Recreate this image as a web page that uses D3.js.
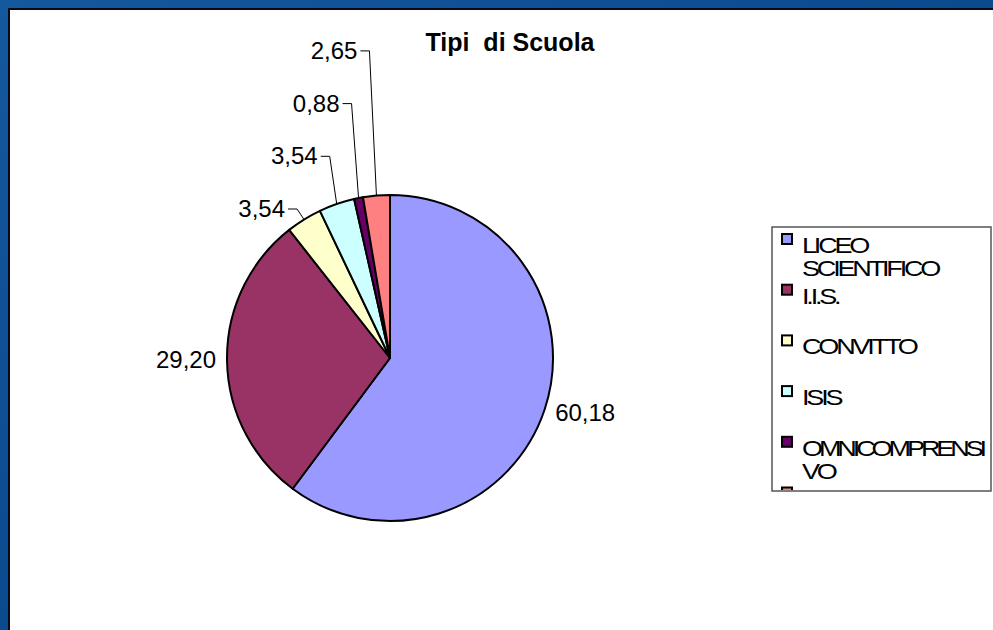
<!DOCTYPE html>
<html>
<head>
<meta charset="utf-8">
<script src="https://cdn.jsdelivr.net/npm/d3@7"></script>
<style>
  body { margin: 0; padding: 0; overflow: hidden; }
  svg { display: block; }
</style>
</head>
<body>
<script>
// data
const categories = ["LICEO SCIENTIFICO", "I.I.S.", "CONVITTO", "ISIS", "OMNICOMPRENSIVO", "ALTRO"];
const values = [60.18, 29.20, 3.54, 3.54, 0.88, 2.65];
const labels = ["60,18", "29,20", "3,54", "3,54", "0,88", "2,65"];
const legendLines = [["LICEO", "SCIENTIFICO"], ["I.I.S."], ["CONVITTO"], ["ISIS"], ["OMNICOMPRENSI", "VO"], ["ALTRO"]];
const colors = ["#9999ff", "#993366", "#ffffcc", "#ccffff", "#660066", "#ff8080"];

const width = 993, height = 630;
const cx = 390, cy = 358, radius = 163;

const svg = d3.select("body").append("svg")
    .attr("width", width)
    .attr("height", height);

const defs = svg.append("defs");
const grad = defs.append("linearGradient")
    .attr("id", "bg")
    .attr("x1", "0").attr("y1", "0").attr("x2", "1").attr("y2", "1");
grad.append("stop").attr("offset", "0%").attr("stop-color", "#14589e");
grad.append("stop").attr("offset", "50%").attr("stop-color", "#0c4a8e");
grad.append("stop").attr("offset", "100%").attr("stop-color", "#0a4283");

// blue frame + white panel
svg.append("rect")
    .attr("width", width).attr("height", height)
    .attr("fill", "url(#bg)");

svg.append("rect")
    .attr("x", 9).attr("y", 9)
    .attr("width", width).attr("height", height)
    .attr("fill", "#ffffff")
    .attr("stroke", "#0a0a14")
    .attr("stroke-width", 2);

// title
svg.append("text")
    .attr("x", 510)
    .attr("y", 51)
    .attr("text-anchor", "middle")
    .style("font-family", "Liberation Sans, Arial, sans-serif")
    .style("font-weight", "bold")
    .style("font-size", "25px")
    .style("white-space", "pre")
    .text("Tipi  di Scuola");

// pie
const pie = d3.pie().sort(null).value(function(d){ return d; });
const arcs = pie(values);
const arc = d3.arc().innerRadius(0).outerRadius(radius);

const g = svg.append("g").attr("transform", "translate(" + cx + "," + cy + ")");

g.selectAll("path")
    .data(arcs)
    .enter()
    .append("path")
    .attr("d", arc)
    .attr("fill", function(d, i){ return colors[i]; })
    .attr("stroke", "#000")
    .attr("stroke-width", 2)
    .attr("stroke-linejoin", "round");

// labels: big slices next to the arc, small ones stacked up with leader lines
let smallIndex = 0;
arcs.forEach(function(d, i){
  const mid = (d.startAngle + d.endAngle) / 2;
  const sx = Math.sin(mid), sy = -Math.cos(mid);
  if (d.value >= 5) {
    const px = (radius + 11) * sx, py = (radius + 11) * sy;
    g.append("text")
        .attr("x", px)
        .attr("y", py + 8)
        .attr("text-anchor", sx >= 0 ? "start" : "end")
        .style("font-family", "Liberation Sans, Arial, sans-serif")
        .style("font-size", "24px")
        .text(labels[i]);
  } else {
    const ax = radius * sx, ay = radius * sy;
    const rowY = -149 - 52.7 * smallIndex;
    const ex = ax - 7;
    g.append("polyline")
        .attr("points", [[ex - 9, rowY], [ex, rowY], [ax, ay]].map(function(p){ return p.join(","); }).join(" "))
        .attr("fill", "none")
        .attr("stroke", "#000")
        .attr("stroke-width", 1);
    g.append("text")
        .attr("x", ex - 12)
        .attr("y", rowY + 8)
        .attr("text-anchor", "end")
        .style("font-family", "Liberation Sans, Arial, sans-serif")
        .style("font-size", "24px")
        .text(labels[i]);
    smallIndex++;
  }
});

// legend; only the last entry runs past the bottom of the box, as in the original
const lx = 772, ly = 227, lw = 219, lh = 264;
const stretch = 1.23;
const baseSpacing = -2.6;
defs.append("clipPath").attr("id", "legclip")
  .append("rect")
    .attr("x", lx + 1).attr("y", ly + 1)
    .attr("width", lw - 2).attr("height", lh - 2);

svg.append("rect")
    .attr("x", lx).attr("y", ly)
    .attr("width", lw).attr("height", lh)
    .attr("fill", "#fff")
    .attr("stroke", "#555")
    .attr("stroke-width", 1.5);

const leg = svg.append("g");

const items = leg.selectAll("g.item")
    .data(categories)
    .enter()
    .append("g")
    .attr("class", "item")
    .attr("clip-path", function(d, i){ return i === categories.length - 1 ? "url(#legclip)" : null; })
  .append("g")
    .attr("transform", function(d, i){ return "translate(" + (lx + 10) + "," + (ly + 7 + i * 50.7) + ")"; });

items.append("rect")
    .attr("x", 0).attr("y", 0)
    .attr("width", 10).attr("height", 10)
    .attr("fill", function(d, i){ return colors[i]; })
    .attr("stroke", "#000")
    .attr("stroke-width", 2);

// squeezed, overlapping glyphs as in the source rendering
const maxLen = (lw - 10 - 20 - 8) / stretch;
items.append("text")
    .attr("transform", "scale(" + stretch + ",1)")
    .style("font-family", "Liberation Sans, Arial, sans-serif")
    .style("font-size", "22px")
    .style("letter-spacing", baseSpacing + "px")
    .each(function(d, i){
      d3.select(this).selectAll("tspan")
        .data(legendLines[i])
        .enter()
        .append("tspan")
        .attr("x", 20 / stretch)
        .attr("y", function(t, j){ return 19 + j * 23; })
        .text(function(t){ return t; })
        .each(function(t){
          // tighten long words so they stay inside the box
          const len = this.getComputedTextLength();
          if (len > maxLen) {
            d3.select(this)
              .style("letter-spacing", (baseSpacing - (len - maxLen) / t.length) + "px");
          }
        });
    });
</script>
</body>
</html>
